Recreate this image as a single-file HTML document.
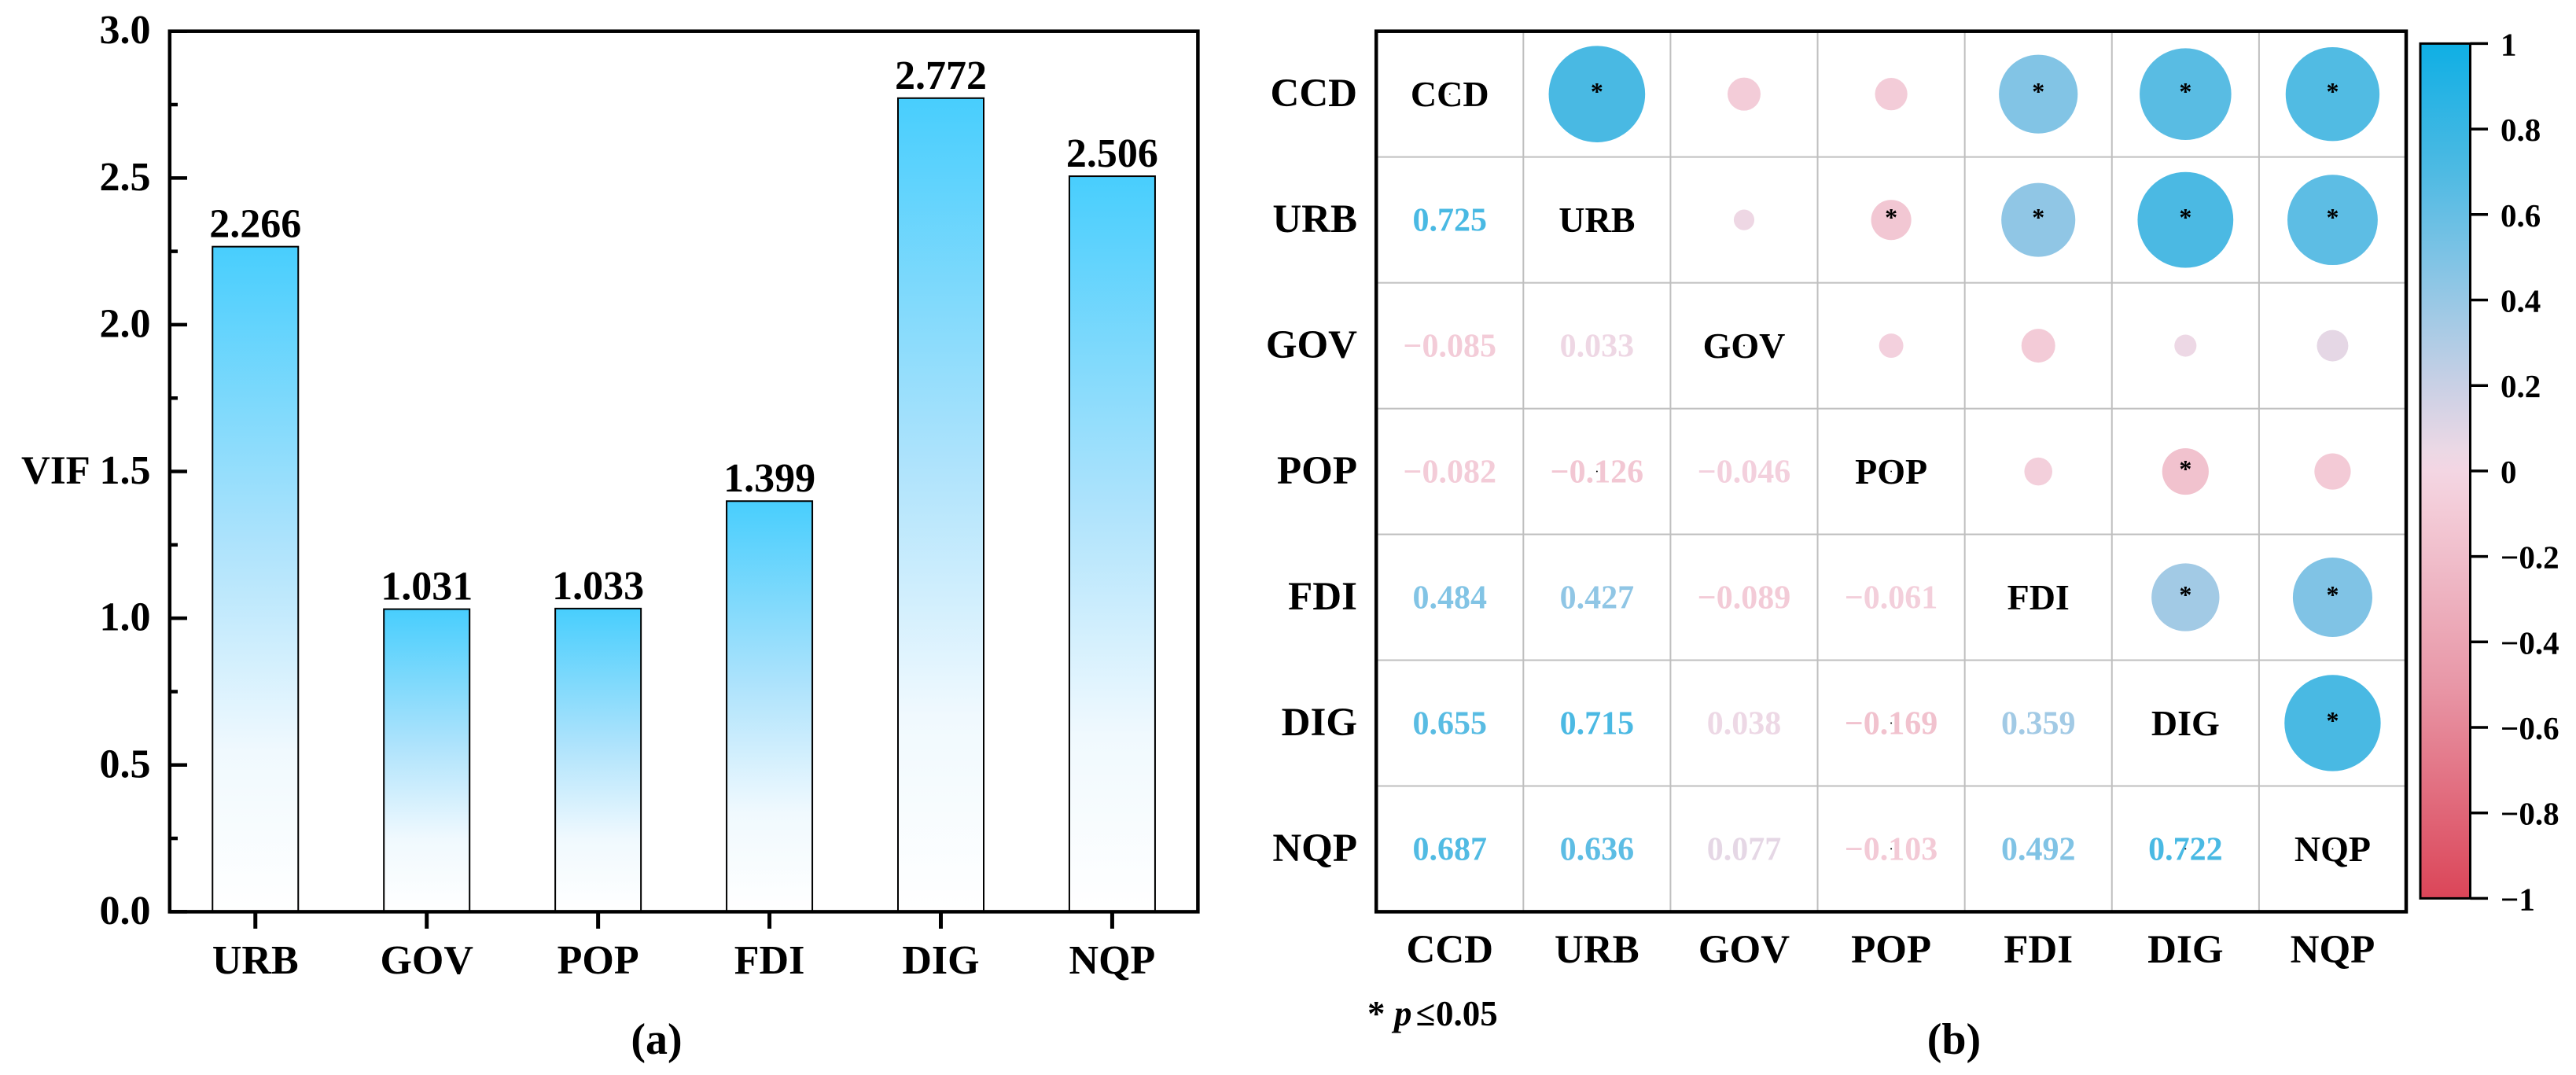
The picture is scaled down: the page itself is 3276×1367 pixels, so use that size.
<!DOCTYPE html>
<html lang="en">
<head>
<meta charset="utf-8">
<title>VIF bar chart and correlation matrix</title>
<style>
html,body{margin:0;padding:0;background:#fff;}
svg{display:block;}
text{font-family:"Liberation Serif",serif;font-weight:bold;fill:#000;}
</style>
</head>
<body>
<svg id="figure" xmlns="http://www.w3.org/2000/svg" width="3276" height="1367" viewBox="0 0 3276 1367">
  <defs>
    <linearGradient id="barFill" x1="0" y1="0" x2="0" y2="1">
      <stop offset="0" stop-color="#48cefd"/>
      <stop offset="0.45" stop-color="#aee3fc"/>
      <stop offset="0.76" stop-color="#f0f9fe"/>
      <stop offset="1" stop-color="#ffffff"/>
    </linearGradient>
    <linearGradient id="cbFill" x1="0" y1="0" x2="0" y2="1"></linearGradient>
  </defs>
  <rect x="0" y="0" width="3276" height="1367" fill="#ffffff"/>
  <g id="panelA"></g>
  <g id="panelB"></g>
  <g id="colorbar"></g>
  <text x="835" y="1340" font-size="56" text-anchor="middle">(a)</text>
  <text x="2485" y="1340" font-size="56" text-anchor="middle">(b)</text>
  <text y="1304" font-size="45"><tspan x="1739">*</tspan><tspan x="1773" font-style="italic">p</tspan><tspan x="1800.5">≤</tspan><tspan x="1826">0.05</tspan></text>
  <text x="27" y="615" font-size="51">VIF</text>
</svg>
<script>
// ---- data: panel (a) ----
const barCategories = ['URB', 'GOV', 'POP', 'FDI', 'DIG', 'NQP'];
const vifValues = [2.266, 1.031, 1.033, 1.399, 2.772, 2.506];
const yMajorTicks = [0, 0.5, 1, 1.5, 2, 2.5, 3];
const yMinorTicks = [0.25, 0.75, 1.25, 1.75, 2.25, 2.75];

// ---- data: panel (b) ----
const corrLabels = ['CCD', 'URB', 'GOV', 'POP', 'FDI', 'DIG', 'NQP'];
const corrLower = [
  [],
  [0.725],
  [-0.085, 0.033],
  [-0.082, -0.126, -0.046],
  [0.484, 0.427, -0.089, -0.061],
  [0.655, 0.715, 0.038, -0.169, 0.359],
  [0.687, 0.636, 0.077, -0.103, 0.492, 0.722]
];
const significantPairs = [
  ['CCD', 'URB'], ['CCD', 'FDI'], ['CCD', 'DIG'], ['CCD', 'NQP'],
  ['URB', 'POP'], ['URB', 'FDI'], ['URB', 'DIG'], ['URB', 'NQP'],
  ['POP', 'DIG'], ['FDI', 'DIG'], ['FDI', 'NQP'], ['DIG', 'NQP']
];
const tinyMarkCells = [
  ['CCD', 'CCD'], ['GOV', 'GOV'], ['POP', 'POP'], ['NQP', 'NQP'],
  ['POP', 'URB'], ['DIG', 'POP'], ['NQP', 'POP'], ['NQP', 'DIG']
];
const colorbarTicks = [1, 0.8, 0.6, 0.4, 0.2, 0, -0.2, -0.4, -0.6, -0.8, -1];
const cmapValues = [1, 0.7, 0.5, 0.35, 0.2, 0.05, 0, -0.1, -0.2, -0.5, -1];
const cmapColors = ['#0fafe4', '#4ebae3', '#7ec3e5', '#a4cae5', '#c9d0e5', '#ebd8e5', '#f3d6e3', '#f3cad6', '#f0becb', '#e897a7', '#db4558'];

// ---- helpers ----
const NS = 'http://www.w3.org/2000/svg';
function make(parent, tag, attrs, text) {
  const node = document.createElementNS(NS, tag);
  for (const k in attrs) node.setAttribute(k, attrs[k]);
  if (text !== undefined) node.textContent = text;
  parent.appendChild(node);
  return node;
}
function hexToRgb(h) {
  return [parseInt(h.slice(1, 3), 16), parseInt(h.slice(3, 5), 16), parseInt(h.slice(5, 7), 16)];
}
function colorFor(v) {
  for (let i = 0; i < cmapValues.length - 1; i++) {
    const hi = cmapValues[i], lo = cmapValues[i + 1];
    if (v <= hi && v >= lo) {
      const t = (hi - v) / (hi - lo);
      const a = hexToRgb(cmapColors[i]), b = hexToRgb(cmapColors[i + 1]);
      const c = a.map((x, j) => Math.round(x + (b[j] - x) * t));
      return 'rgb(' + c.join(',') + ')';
    }
  }
  return '#000000';
}
function fmtSigned(v, digits) {
  const s = Math.abs(v).toFixed(digits);
  return (v < 0 ? '\u2212' : '') + s;
}

// ---- axis functions: panel (a) ----
const aLeft = 215.8, aRight = 1523.4, plotTop = 39.7, plotBottom = 1159.4;
const yMaxA = 3;
const barBand = (aRight - aLeft) / barCategories.length;
const barWidth = 109;
function xA(i) { return aLeft + barBand * (i + 0.5); }
function yA(v) { return plotBottom - (plotBottom - plotTop) * v / yMaxA; }

const panelA = document.getElementById('panelA');
vifValues.forEach(function (v, i) {
  const bar = make(panelA, 'rect', {
    x: xA(i) - barWidth / 2, y: yA(v), width: barWidth, height: yA(0) - yA(v),
    fill: 'url(#barFill)', stroke: '#000', 'stroke-width': 2
  });
  
  
  const label = make(panelA, 'text', {
    x: xA(i), y: yA(v) - 12, 'font-size': 52, 'text-anchor': 'middle'
  }, v.toFixed(3));
  
  
  const tick = make(panelA, 'line', {
    x1: xA(i), x2: xA(i), y1: plotBottom, y2: plotBottom + 21.5, stroke: '#000', 'stroke-width': 5
  });
  
  
  const cat = make(panelA, 'text', {
    x: xA(i), y: 1238, 'font-size': 52, 'text-anchor': 'middle'
  }, barCategories[i]);
  
  
});
yMajorTicks.forEach(function (v) {
  const tick = make(panelA, 'line', {
    x1: aLeft, x2: 238, y1: yA(v), y2: yA(v), stroke: '#000', 'stroke-width': 4.5
  });
  
  
  const label = make(panelA, 'text', {
    x: 191.5, y: yA(v) + 15.5, 'font-size': 52, 'text-anchor': 'end'
  }, v.toFixed(1));
  
  
});
yMinorTicks.forEach(function (v) {
  const tick = make(panelA, 'line', {
    x1: aLeft, x2: 226, y1: yA(v), y2: yA(v), stroke: '#000', 'stroke-width': 4.5
  });
  
  
});
const frameA = make(panelA, 'rect', {
  x: aLeft, y: plotTop, width: aRight - aLeft, height: plotBottom - plotTop,
  fill: 'none', stroke: '#000', 'stroke-width': 4.5
});



// ---- axis functions: panel (b) ----
const bLeft = 1750.2, bRight = 3060;
const nVars = corrLabels.length;
const cellW = (bRight - bLeft) / nVars, cellH = (plotBottom - plotTop) / nVars;
function xB(i) { return bLeft + cellW * (i + 0.5); }
function yB(i) { return plotTop + cellH * (i + 0.5); }
function circleRadius(r) { return 72 * Math.sqrt(Math.abs(r)); }
function isSignificant(a, b) {
  return significantPairs.some(function (p) {
    return (p[0] === a && p[1] === b) || (p[0] === b && p[1] === a);
  });
}

const panelB = document.getElementById('panelB');
for (let i = 1; i < nVars; i++) {
  const vLine = make(panelB, 'line', {
    x1: bLeft + cellW * i, x2: bLeft + cellW * i, y1: plotTop, y2: plotBottom, stroke: '#bfbfbf', 'stroke-width': 2
  });
  
  
  const hLine = make(panelB, 'line', {
    x1: bLeft, x2: bRight, y1: plotTop + cellH * i, y2: plotTop + cellH * i, stroke: '#bfbfbf', 'stroke-width': 2
  });
  
  
}
corrLabels.forEach(function (name, i) {
  const rowLabel = make(panelB, 'text', {
    x: 1726, y: yB(i) + 15.5, 'font-size': 51, 'text-anchor': 'end'
  }, name);
  
  
  const colLabel = make(panelB, 'text', {
    x: xB(i), y: 1224, 'font-size': 51, 'text-anchor': 'middle'
  }, name);
  
  
  const diag = make(panelB, 'text', {
    x: xB(i), y: yB(i) + 15.5, 'font-size': 46, 'text-anchor': 'middle'
  }, name);
  
  
});
corrLower.forEach(function (row, r) {
  row.forEach(function (v, c) {
    const num = make(panelB, 'text', {
      x: xB(c), y: yB(r) + 14, 'font-size': 42, 'text-anchor': 'middle', style: 'fill:' + colorFor(v)
    }, fmtSigned(v, 3));
    
    
    const circ = make(panelB, 'circle', {
      cx: xB(r), cy: yB(c), r: circleRadius(v), fill: colorFor(v)
    });
    
    
    if (isSignificant(corrLabels[r], corrLabels[c])) {
      const star = make(panelB, 'text', {
        x: xB(r), y: yB(c) + 7.5, 'font-size': 32, 'text-anchor': 'middle'
      }, '*');
      
      
    }
  });
});
tinyMarkCells.forEach(function (cell) {
  const dot = make(panelB, 'circle', {
    cx: xB(corrLabels.indexOf(cell[1])), cy: yB(corrLabels.indexOf(cell[0])), r: 1, fill: '#000'
  });
  
  
});
const frameB = make(panelB, 'rect', {
  x: bLeft, y: plotTop, width: bRight - bLeft, height: plotBottom - plotTop,
  fill: 'none', stroke: '#000', 'stroke-width': 4.5
});



// ---- colorbar ----
const cbLeft = 3078, cbRight = 3141.5, cbTop = 55.4, cbBottom = 1142.4;
function yCb(v) { return cbTop + (1 - v) / 2 * (cbBottom - cbTop); }
const cbGrad = document.getElementById('cbFill');
cmapValues.forEach(function (v, i) {
  make(cbGrad, 'stop', { offset: (1 - v) / 2, 'stop-color': cmapColors[i] });
});
const colorbar = document.getElementById('colorbar');
const cbRect = make(colorbar, 'rect', {
  x: cbLeft, y: cbTop, width: cbRight - cbLeft, height: cbBottom - cbTop,
  fill: 'url(#cbFill)', stroke: '#000', 'stroke-width': 3
});


colorbarTicks.forEach(function (v) {
  const tick = make(colorbar, 'line', {
    x1: cbRight, x2: 3164, y1: yCb(v), y2: yCb(v), stroke: '#000', 'stroke-width': 3.5
  });
  
  
  const txt = Number.isInteger(v) ? fmtSigned(v, 0) : fmtSigned(v, 1);
  const label = make(colorbar, 'text', {
    x: 3180, y: yCb(v) + 15, 'font-size': 41
  }, txt);
  
  
});
</script>
</body>
</html>
